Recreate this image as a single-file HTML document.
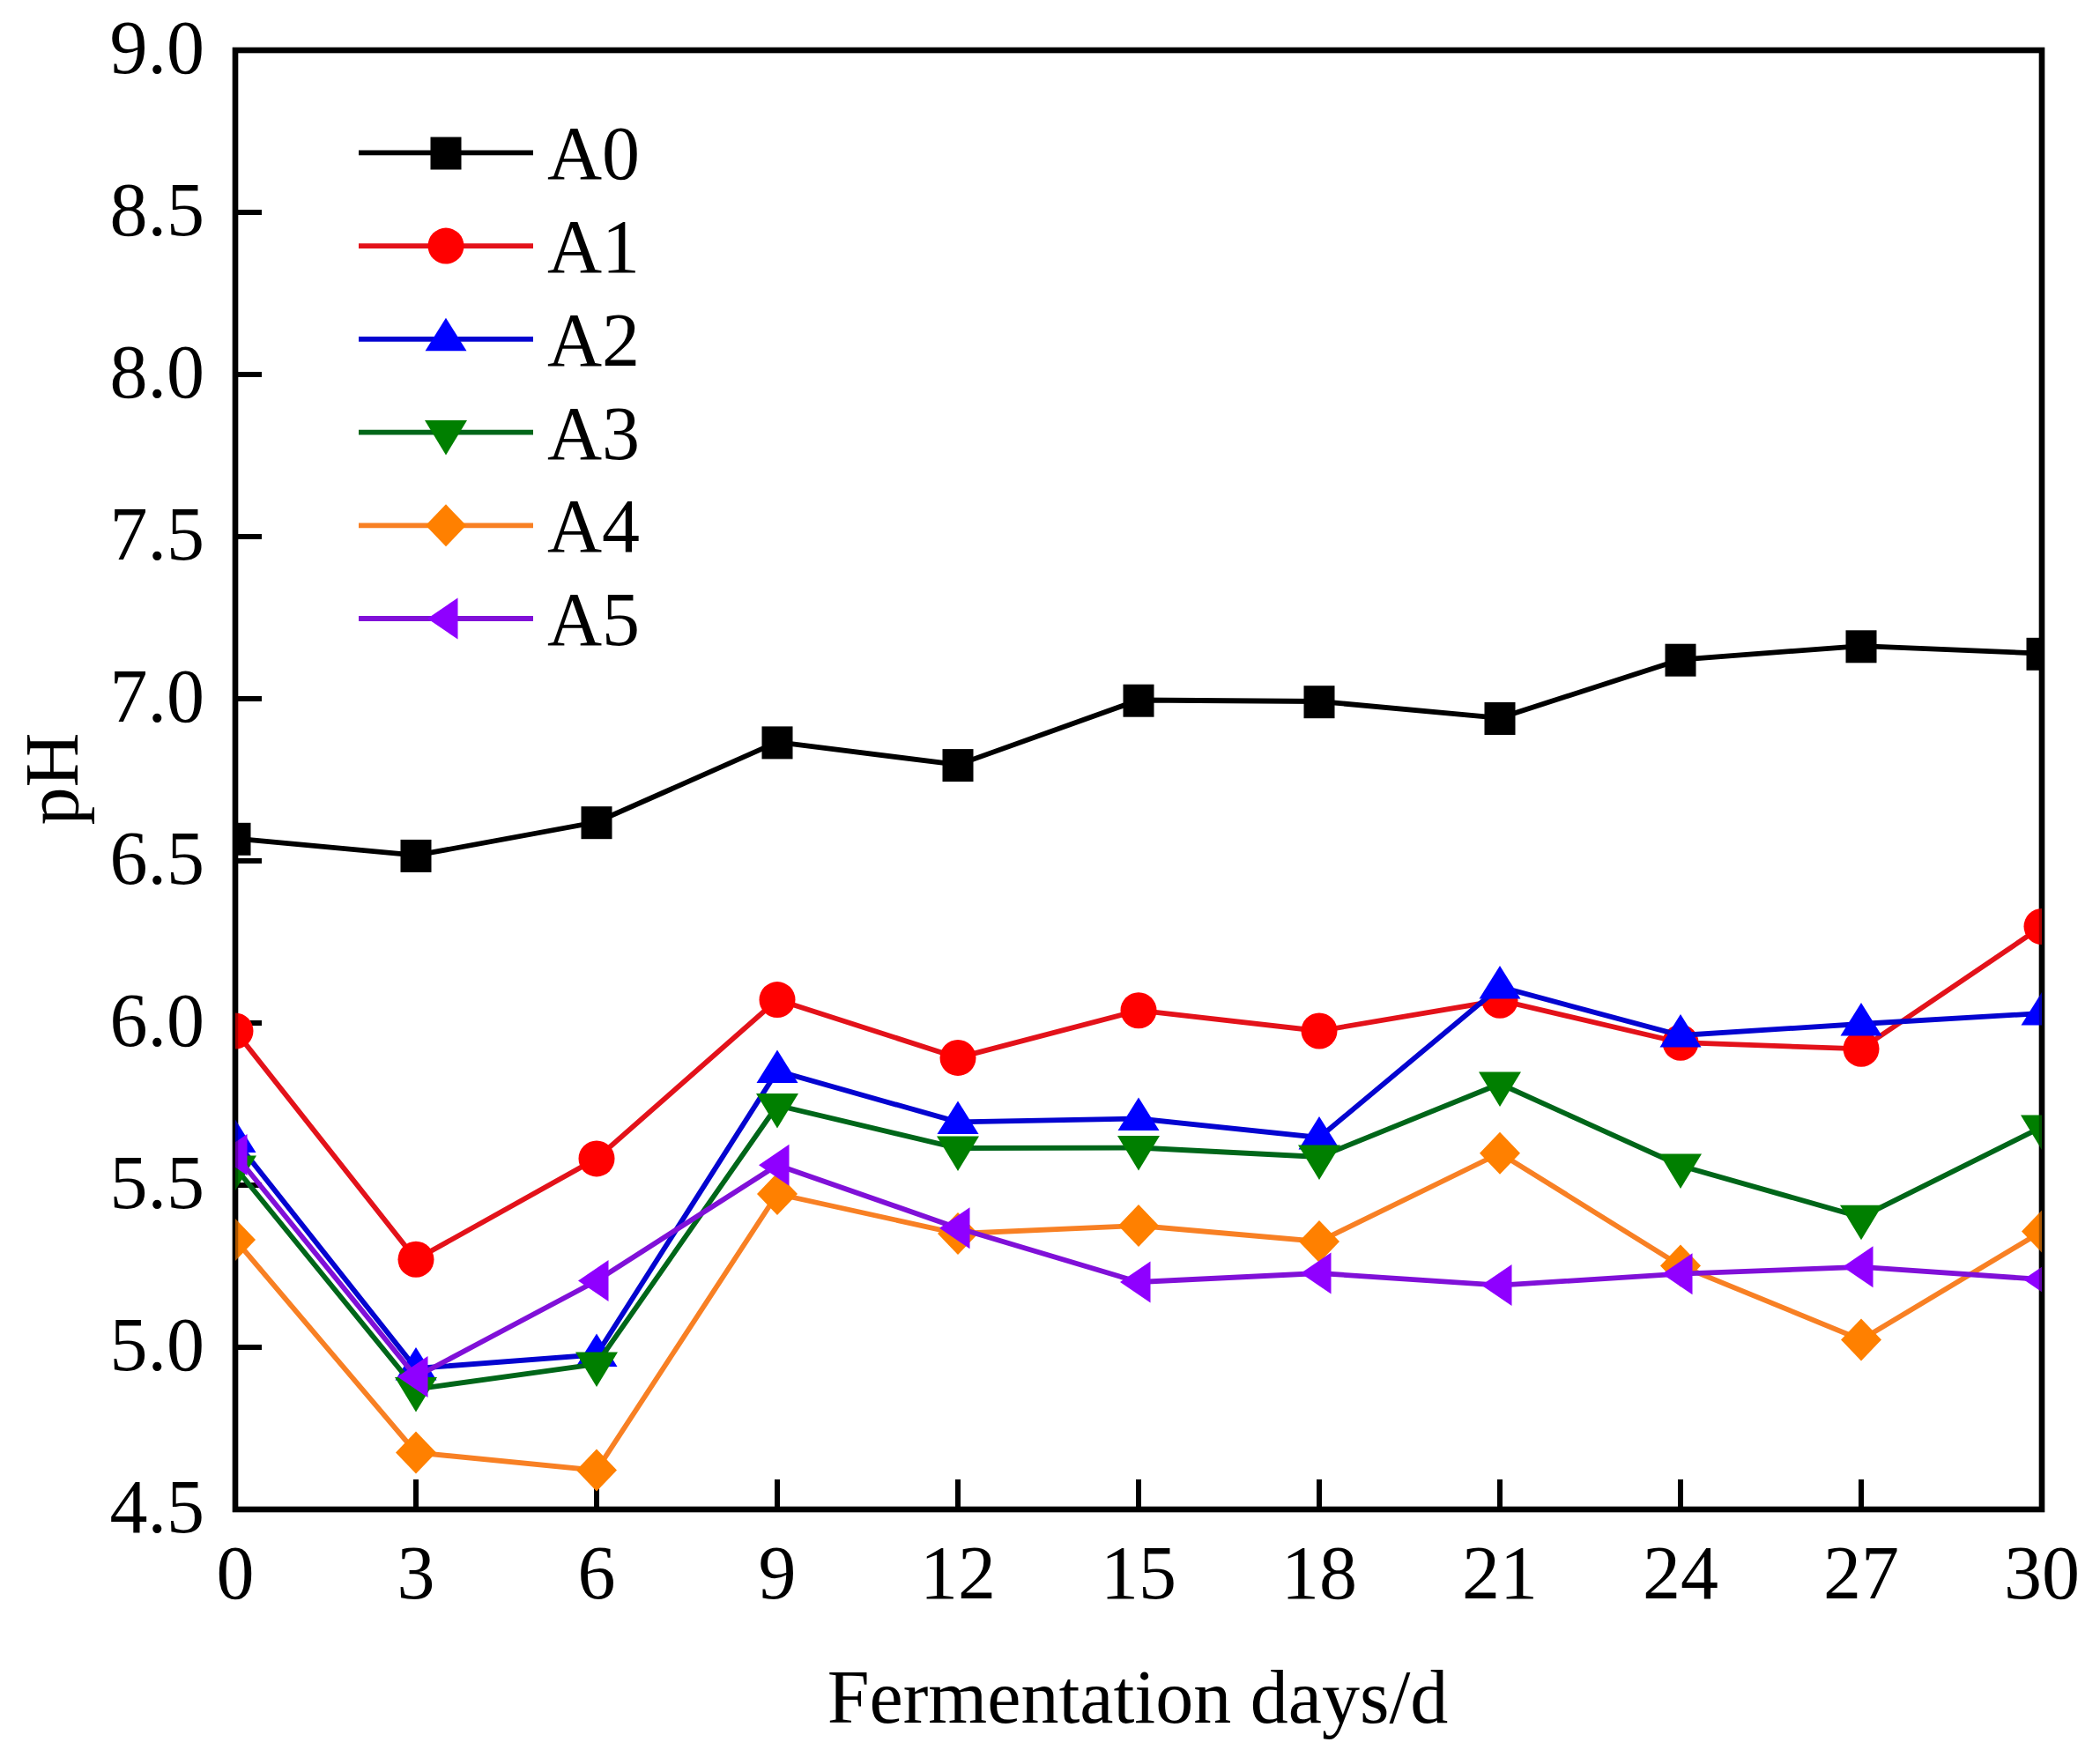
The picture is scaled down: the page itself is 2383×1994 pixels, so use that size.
<!DOCTYPE html>
<html><head><meta charset="utf-8"><title>pH vs Fermentation days</title>
<style>html,body{margin:0;padding:0;background:#fff;}svg{display:block;}</style>
</head><body>
<svg width="2383" height="1994" viewBox="0 0 2383 1994">
<rect x="0" y="0" width="2383" height="1994" fill="#ffffff"/>
<defs><clipPath id="pc"><rect x="267.0" y="57.0" width="2050.0" height="1656.0"/></clipPath></defs>
<path d="M267.0,1713.0H297.0M267.0,1529.0H297.0M267.0,1345.0H297.0M267.0,1161.0H297.0M267.0,977.0H297.0M267.0,793.0H297.0M267.0,609.0H297.0M267.0,425.0H297.0M267.0,241.0H297.0M267.0,57.0H297.0M267.0,1713.0V1679.0M472.0,1713.0V1679.0M677.0,1713.0V1679.0M882.0,1713.0V1679.0M1087.0,1713.0V1679.0M1292.0,1713.0V1679.0M1497.0,1713.0V1679.0M1702.0,1713.0V1679.0M1907.0,1713.0V1679.0M2112.0,1713.0V1679.0M2317.0,1713.0V1679.0" stroke="#000" stroke-width="6" fill="none"/>
<rect x="267.0" y="57.0" width="2050.0" height="1656.0" fill="none" stroke="#000" stroke-width="6.5"/>
<g clip-path="url(#pc)">
<polyline points="267.0,951.6 472.0,970.7 677.0,933.0 882.0,842.2 1087.0,867.9 1292.0,794.5 1497.0,796.0 1702.0,814.8 1907.0,748.5 2112.0,733.1 2317.0,741.6" fill="none" stroke="#000000" stroke-width="5.8" stroke-linejoin="miter" stroke-miterlimit="3"/>
<rect x="249.5" y="933.8" width="35" height="37" fill="#000000"/>
<rect x="454.5" y="952.9" width="35" height="37" fill="#000000"/>
<rect x="659.5" y="915.2" width="35" height="37" fill="#000000"/>
<rect x="864.5" y="824.4" width="35" height="37" fill="#000000"/>
<rect x="1069.5" y="850.1" width="35" height="37" fill="#000000"/>
<rect x="1274.5" y="776.7" width="35" height="37" fill="#000000"/>
<rect x="1479.5" y="778.2" width="35" height="37" fill="#000000"/>
<rect x="1684.5" y="797.0" width="35" height="37" fill="#000000"/>
<rect x="1889.5" y="730.7" width="35" height="37" fill="#000000"/>
<rect x="2094.5" y="715.3" width="35" height="37" fill="#000000"/>
<rect x="2299.5" y="723.8" width="35" height="37" fill="#000000"/>
<polyline points="267.0,1170.0 472.0,1429.3 677.0,1314.9 882.0,1134.6 1087.0,1200.4 1292.0,1146.7 1497.0,1170.0 1702.0,1135.3 1907.0,1183.2 2112.0,1190.3 2317.0,1051.5" fill="none" stroke="#E3121A" stroke-width="5.8" stroke-linejoin="miter" stroke-miterlimit="3"/>
<circle cx="267.0" cy="1170.0" r="20.5" fill="#FF0000"/>
<circle cx="472.0" cy="1429.3" r="20.5" fill="#FF0000"/>
<circle cx="677.0" cy="1314.9" r="20.5" fill="#FF0000"/>
<circle cx="882.0" cy="1134.6" r="20.5" fill="#FF0000"/>
<circle cx="1087.0" cy="1200.4" r="20.5" fill="#FF0000"/>
<circle cx="1292.0" cy="1146.7" r="20.5" fill="#FF0000"/>
<circle cx="1497.0" cy="1170.0" r="20.5" fill="#FF0000"/>
<circle cx="1702.0" cy="1135.3" r="20.5" fill="#FF0000"/>
<circle cx="1907.0" cy="1183.2" r="20.5" fill="#FF0000"/>
<circle cx="2112.0" cy="1190.3" r="20.5" fill="#FF0000"/>
<circle cx="2317.0" cy="1051.5" r="20.5" fill="#FF0000"/>
<polyline points="267.0,1294.4 472.0,1553.0 677.0,1537.5 882.0,1215.5 1087.0,1273.4 1292.0,1269.5 1497.0,1291.0 1702.0,1120.0 1907.0,1175.0 2112.0,1162.0 2317.0,1150.0" fill="none" stroke="#0404D0" stroke-width="5.8" stroke-linejoin="miter" stroke-miterlimit="3"/>
<polygon points="267.0,1270.4 290.5,1307.9 243.5,1307.9" fill="#0000FF"/>
<polygon points="472.0,1529.0 495.5,1566.5 448.5,1566.5" fill="#0000FF"/>
<polygon points="677.0,1513.5 700.5,1551.0 653.5,1551.0" fill="#0000FF"/>
<polygon points="882.0,1191.5 905.5,1229.0 858.5,1229.0" fill="#0000FF"/>
<polygon points="1087.0,1249.4 1110.5,1286.9 1063.5,1286.9" fill="#0000FF"/>
<polygon points="1292.0,1245.5 1315.5,1283.0 1268.5,1283.0" fill="#0000FF"/>
<polygon points="1497.0,1267.0 1520.5,1304.5 1473.5,1304.5" fill="#0000FF"/>
<polygon points="1702.0,1096.0 1725.5,1133.5 1678.5,1133.5" fill="#0000FF"/>
<polygon points="1907.0,1151.0 1930.5,1188.5 1883.5,1188.5" fill="#0000FF"/>
<polygon points="2112.0,1138.0 2135.5,1175.5 2088.5,1175.5" fill="#0000FF"/>
<polygon points="2317.0,1126.0 2340.5,1163.5 2293.5,1163.5" fill="#0000FF"/>
<polyline points="267.0,1325.0 472.0,1576.5 677.0,1548.0 882.0,1254.5 1087.0,1303.0 1292.0,1302.5 1497.0,1313.0 1702.0,1230.0 1907.0,1323.0 2112.0,1381.3 2317.0,1279.0" fill="none" stroke="#006619" stroke-width="5.8" stroke-linejoin="miter" stroke-miterlimit="3"/>
<polygon points="243.0,1311.5 291.0,1311.5 267.0,1351.0" fill="#007F00"/>
<polygon points="448.0,1563.0 496.0,1563.0 472.0,1602.5" fill="#007F00"/>
<polygon points="653.0,1534.5 701.0,1534.5 677.0,1574.0" fill="#007F00"/>
<polygon points="858.0,1241.0 906.0,1241.0 882.0,1280.5" fill="#007F00"/>
<polygon points="1063.0,1289.5 1111.0,1289.5 1087.0,1329.0" fill="#007F00"/>
<polygon points="1268.0,1289.0 1316.0,1289.0 1292.0,1328.5" fill="#007F00"/>
<polygon points="1473.0,1299.5 1521.0,1299.5 1497.0,1339.0" fill="#007F00"/>
<polygon points="1678.0,1216.5 1726.0,1216.5 1702.0,1256.0" fill="#007F00"/>
<polygon points="1883.0,1309.5 1931.0,1309.5 1907.0,1349.0" fill="#007F00"/>
<polygon points="2088.0,1367.8 2136.0,1367.8 2112.0,1407.3" fill="#007F00"/>
<polygon points="2293.0,1265.5 2341.0,1265.5 2317.0,1305.0" fill="#007F00"/>
<polyline points="267.0,1407.0 472.0,1648.5 677.0,1668.6 882.0,1355.0 1087.0,1400.0 1292.0,1391.0 1497.0,1409.0 1702.0,1308.7 1907.0,1436.4 2112.0,1520.4 2317.0,1397.6" fill="none" stroke="#F88024" stroke-width="5.8" stroke-linejoin="miter" stroke-miterlimit="3"/>
<polygon points="267.0,1383.0 290.0,1407.0 267.0,1431.0 244.0,1407.0" fill="#FF8000"/>
<polygon points="472.0,1624.5 495.0,1648.5 472.0,1672.5 449.0,1648.5" fill="#FF8000"/>
<polygon points="677.0,1644.6 700.0,1668.6 677.0,1692.6 654.0,1668.6" fill="#FF8000"/>
<polygon points="882.0,1331.0 905.0,1355.0 882.0,1379.0 859.0,1355.0" fill="#FF8000"/>
<polygon points="1087.0,1376.0 1110.0,1400.0 1087.0,1424.0 1064.0,1400.0" fill="#FF8000"/>
<polygon points="1292.0,1367.0 1315.0,1391.0 1292.0,1415.0 1269.0,1391.0" fill="#FF8000"/>
<polygon points="1497.0,1385.0 1520.0,1409.0 1497.0,1433.0 1474.0,1409.0" fill="#FF8000"/>
<polygon points="1702.0,1284.7 1725.0,1308.7 1702.0,1332.7 1679.0,1308.7" fill="#FF8000"/>
<polygon points="1907.0,1412.4 1930.0,1436.4 1907.0,1460.4 1884.0,1436.4" fill="#FF8000"/>
<polygon points="2112.0,1496.4 2135.0,1520.4 2112.0,1544.4 2089.0,1520.4" fill="#FF8000"/>
<polygon points="2317.0,1373.6 2340.0,1397.6 2317.0,1421.6 2294.0,1397.6" fill="#FF8000"/>
<polyline points="267.0,1310.5 472.0,1562.5 677.0,1453.5 882.0,1322.2 1087.0,1393.7 1292.0,1455.0 1497.0,1445.0 1702.0,1458.6 1907.0,1445.7 2112.0,1437.8 2317.0,1452.0" fill="none" stroke="#8010D8" stroke-width="5.8" stroke-linejoin="miter" stroke-miterlimit="3"/>
<polygon points="246.0,1310.5 280.5,1287.0 280.5,1334.0" fill="#8F00FF"/>
<polygon points="451.0,1562.5 485.5,1539.0 485.5,1586.0" fill="#8F00FF"/>
<polygon points="656.0,1453.5 690.5,1430.0 690.5,1477.0" fill="#8F00FF"/>
<polygon points="861.0,1322.2 895.5,1298.7 895.5,1345.7" fill="#8F00FF"/>
<polygon points="1066.0,1393.7 1100.5,1370.2 1100.5,1417.2" fill="#8F00FF"/>
<polygon points="1271.0,1455.0 1305.5,1431.5 1305.5,1478.5" fill="#8F00FF"/>
<polygon points="1476.0,1445.0 1510.5,1421.5 1510.5,1468.5" fill="#8F00FF"/>
<polygon points="1681.0,1458.6 1715.5,1435.1 1715.5,1482.1" fill="#8F00FF"/>
<polygon points="1886.0,1445.7 1920.5,1422.2 1920.5,1469.2" fill="#8F00FF"/>
<polygon points="2091.0,1437.8 2125.5,1414.3 2125.5,1461.3" fill="#8F00FF"/>
<polygon points="2296.0,1452.0 2330.5,1428.5 2330.5,1475.5" fill="#8F00FF"/>
</g>
<rect x="267.0" y="57.0" width="2050.0" height="1656.0" fill="none" stroke="#000" stroke-opacity="0.35" stroke-width="6.5"/>
<text x="232" y="1738.5" text-anchor="end" font-size="86" font-family="'Liberation Serif','Times New Roman',serif">4.5</text>
<text x="232" y="1554.5" text-anchor="end" font-size="86" font-family="'Liberation Serif','Times New Roman',serif">5.0</text>
<text x="232" y="1370.5" text-anchor="end" font-size="86" font-family="'Liberation Serif','Times New Roman',serif">5.5</text>
<text x="232" y="1186.5" text-anchor="end" font-size="86" font-family="'Liberation Serif','Times New Roman',serif">6.0</text>
<text x="232" y="1002.5" text-anchor="end" font-size="86" font-family="'Liberation Serif','Times New Roman',serif">6.5</text>
<text x="232" y="818.5" text-anchor="end" font-size="86" font-family="'Liberation Serif','Times New Roman',serif">7.0</text>
<text x="232" y="634.5" text-anchor="end" font-size="86" font-family="'Liberation Serif','Times New Roman',serif">7.5</text>
<text x="232" y="450.5" text-anchor="end" font-size="86" font-family="'Liberation Serif','Times New Roman',serif">8.0</text>
<text x="232" y="266.5" text-anchor="end" font-size="86" font-family="'Liberation Serif','Times New Roman',serif">8.5</text>
<text x="232" y="82.5" text-anchor="end" font-size="86" font-family="'Liberation Serif','Times New Roman',serif">9.0</text>
<text x="267.0" y="1814" text-anchor="middle" font-size="86" font-family="'Liberation Serif','Times New Roman',serif">0</text>
<text x="472.0" y="1814" text-anchor="middle" font-size="86" font-family="'Liberation Serif','Times New Roman',serif">3</text>
<text x="677.0" y="1814" text-anchor="middle" font-size="86" font-family="'Liberation Serif','Times New Roman',serif">6</text>
<text x="882.0" y="1814" text-anchor="middle" font-size="86" font-family="'Liberation Serif','Times New Roman',serif">9</text>
<text x="1087.0" y="1814" text-anchor="middle" font-size="86" font-family="'Liberation Serif','Times New Roman',serif">12</text>
<text x="1292.0" y="1814" text-anchor="middle" font-size="86" font-family="'Liberation Serif','Times New Roman',serif">15</text>
<text x="1497.0" y="1814" text-anchor="middle" font-size="86" font-family="'Liberation Serif','Times New Roman',serif">18</text>
<text x="1702.0" y="1814" text-anchor="middle" font-size="86" font-family="'Liberation Serif','Times New Roman',serif">21</text>
<text x="1907.0" y="1814" text-anchor="middle" font-size="86" font-family="'Liberation Serif','Times New Roman',serif">24</text>
<text x="2112.0" y="1814" text-anchor="middle" font-size="86" font-family="'Liberation Serif','Times New Roman',serif">27</text>
<text x="2317.0" y="1814" text-anchor="middle" font-size="86" font-family="'Liberation Serif','Times New Roman',serif">30</text>
<line x1="407" y1="173.3" x2="605" y2="173.3" stroke="#000000" stroke-width="5.8"/>
<rect x="488.5" y="155.5" width="35" height="37" fill="#000000"/>
<text x="621" y="203.3" font-size="86" font-family="'Liberation Serif','Times New Roman',serif">A0</text>
<line x1="407" y1="279.1" x2="605" y2="279.1" stroke="#E3121A" stroke-width="5.8"/>
<circle cx="506.0" cy="279.1" r="20.5" fill="#FF0000"/>
<text x="621" y="309.1" font-size="86" font-family="'Liberation Serif','Times New Roman',serif">A1</text>
<line x1="407" y1="384.8" x2="605" y2="384.8" stroke="#0404D0" stroke-width="5.8"/>
<polygon points="506.0,360.8 529.5,398.3 482.5,398.3" fill="#0000FF"/>
<text x="621" y="414.8" font-size="86" font-family="'Liberation Serif','Times New Roman',serif">A2</text>
<line x1="407" y1="490.6" x2="605" y2="490.6" stroke="#006619" stroke-width="5.8"/>
<polygon points="482.0,477.1 530.0,477.1 506.0,516.5" fill="#007F00"/>
<text x="621" y="520.5" font-size="86" font-family="'Liberation Serif','Times New Roman',serif">A3</text>
<line x1="407" y1="596.3" x2="605" y2="596.3" stroke="#F88024" stroke-width="5.8"/>
<polygon points="506.0,572.3 529.0,596.3 506.0,620.3 483.0,596.3" fill="#FF8000"/>
<text x="621" y="626.3" font-size="86" font-family="'Liberation Serif','Times New Roman',serif">A4</text>
<line x1="407" y1="702.0" x2="605" y2="702.0" stroke="#8010D8" stroke-width="5.8"/>
<polygon points="485.0,702.0 519.5,678.5 519.5,725.5" fill="#8F00FF"/>
<text x="621" y="732.0" font-size="86" font-family="'Liberation Serif','Times New Roman',serif">A5</text>
<text x="1291" y="1955" text-anchor="middle" font-size="86" font-family="'Liberation Serif','Times New Roman',serif">Fermentation days/d</text>
<text transform="translate(88,884) rotate(-90)" text-anchor="middle" font-size="86" font-family="'Liberation Serif','Times New Roman',serif">pH</text>
</svg>
</body></html>
